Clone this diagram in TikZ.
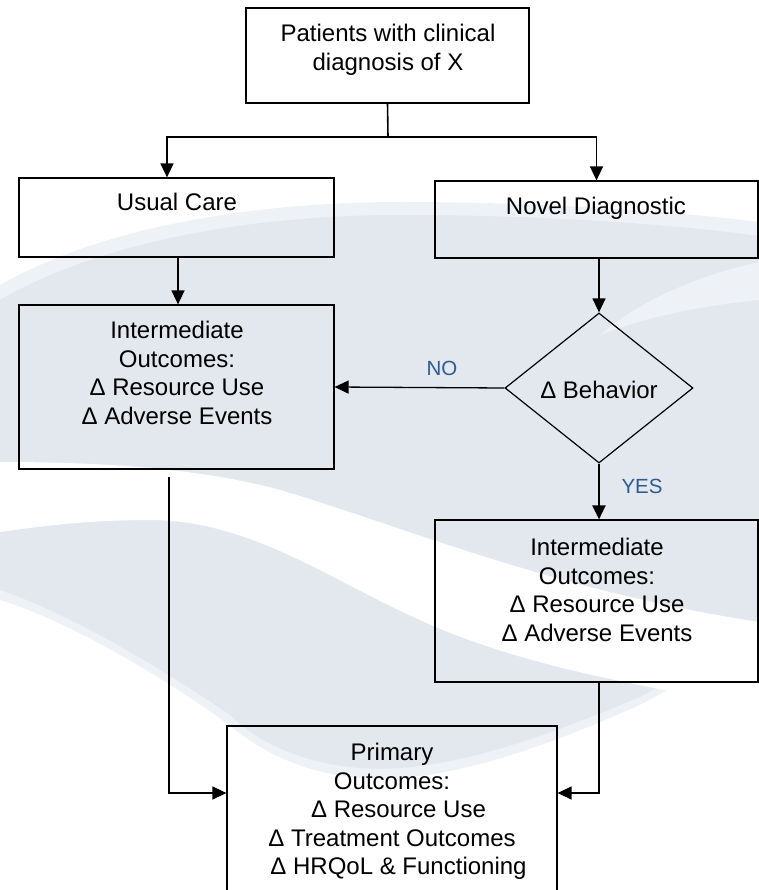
\documentclass[tikz,border=0pt]{standalone}
\usepackage{fontspec}
\setmainfont{Liberation Sans}
\usetikzlibrary{arrows.meta,shapes.geometric}
\definecolor{wm}{HTML}{E3E8EF}
\definecolor{wmsoft}{HTML}{EEF1F6}
\definecolor{lbl}{HTML}{2F5A92}
\begin{document}
\begin{tikzpicture}[x=1pt,y=-1pt,
  box/.style={draw=black,line width=1.2pt,rectangle,inner sep=0pt},
  txt/.style={inner sep=0pt,align=center,font=\fontsize{24}{28.6}\selectfont},
  lab/.style={inner sep=0pt,text=lbl,font=\fontsize{20.5}{24}\selectfont},
  conn/.style={line width=1.3pt},
  arr/.style={conn,-{Triangle[length=14pt,width=13pt]}},
]
\useasboundingbox (0,0) rectangle (759,890);
\clip (0,0) rectangle (759,890);
% watermark
\fill[wmsoft] (0,285) .. controls (100,228) and (250,202) .. (400,202) .. controls (550,202) and (680,212) .. (759,222) -- (759,640) -- (640,705) .. controls (560,740) and (450,785) .. (360,778) .. controls (290,772) and (250,742) .. (225,722) .. controls (150,668) and (60,618) .. (0,600) -- cycle;
\fill[wm] (0,300) .. controls (100,242) and (250,215) .. (400,215) .. controls (550,215) and (680,225) .. (759,236) -- (759,630) -- (640,697) .. controls (560,730) and (450,775) .. (360,768) .. controls (290,762) and (250,735) .. (230,715) .. controls (150,660) and (60,610) .. (0,590) -- cycle;
\fill[wmsoft] (759,262) .. controls (700,275) and (640,300) .. (600,335) .. controls (650,315) and (710,305) .. (759,300) -- cycle;
\fill[white] (0,462) .. controls (100,462) and (200,468) .. (280,490) .. controls (400,525) and (550,590) .. (759,622) -- (759,720) -- (665,690) .. controls (570,672) and (490,652) .. (420,620) .. controls (330,580) and (250,520) .. (150,520) .. controls (80,520) and (30,528) .. (0,532) -- cycle;
% boxes
\node[box,minimum width=283pt,minimum height=95pt] (top) at (387.5,55.5) {};
\node[box,minimum width=315pt,minimum height=79pt] (usual) at (176.5,217.5) {};
\node[box,minimum width=323pt,minimum height=77pt] (novel) at (596.5,219.5) {};
\node[box,minimum width=315pt,minimum height=164pt] (int1) at (176.5,387) {};
\node[draw=black,line width=1.2pt,diamond,inner sep=0pt,minimum width=188pt,minimum height=150pt] (dia) at (599,388) {};
\node[box,minimum width=323pt,minimum height=162pt] (int2) at (596.5,601) {};
\node[box,minimum width=330pt,minimum height=190pt] (bot) at (392,821) {};
% texts
\node[txt] (ttop) at (388,50) {Patients with clinical\\diagnosis of X};
\node[txt] (tusual) at (177,202) {Usual Care};
\node[txt] (tnovel) at (596,208.5) {Novel Diagnostic};
\node[txt] (tint1) at (177,373) {Intermediate\\Outcomes:\\Δ Resource Use\\Δ Adverse Events};
\node[txt] (tdia) at (599,390) {Δ Behavior};
\node[txt] (tint2) at (597,590) {Intermediate\\Outcomes:\\Δ Resource Use\\Δ Adverse Events};
\node[txt] (tbot) at (392,811.5) {Primary\\Outcomes:\hspace*{-8pt}\\\hspace*{13pt}Δ Resource Use\\Δ Treatment Outcomes\\\hspace*{13pt}Δ HRQoL \& Functioning};
\node[lab] (no) at (442,368) {NO};
\node[lab] (yes) at (642,486) {YES};
% connectors
\coordinate (br) at (388,137);
\draw[conn,line width=1.6pt] (top.south) -- (br);
\draw[arr,line width=1.6pt] (br) -| ([xshift=-9.5pt]usual.north);
\draw[arr,line width=1.6pt] (br) -| (novel.north);
\draw[arr] ([xshift=1.5pt]usual.south) -- ([xshift=1.5pt]int1.north);
\draw[arr] (dia.north |- novel.south) -- (dia.north);
\draw[arr] (dia.west) -- (int1.east);
\draw[arr,line width=2.4pt] (dia.south) -- (dia.south |- int2.north);
\coordinate (ls) at (169,477);
\coordinate (lj) at (169,793);
\draw[arr] (ls) -- (lj) -- (lj -| bot.west);
\draw[arr] (dia.south |- int2.south) |- (bot.east |- lj);
\end{tikzpicture}
\end{document}
